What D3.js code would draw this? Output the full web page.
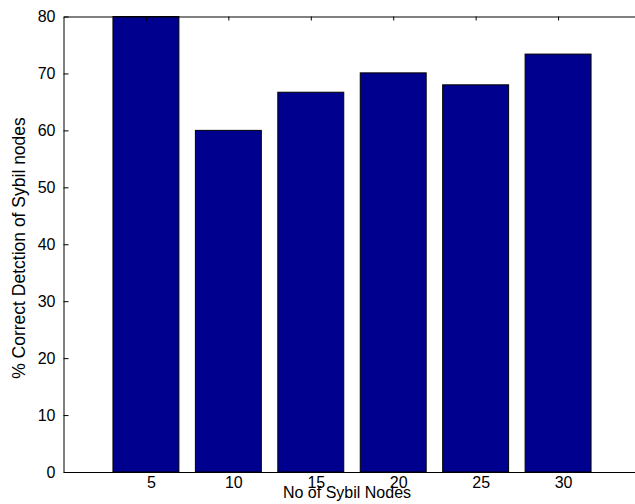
<!DOCTYPE html>
<html>
<head>
<meta charset="utf-8">
<script src="https://cdn.jsdelivr.net/npm/d3@7"></script>
<style>
  body { margin: 0; background: #fff; }
  svg text { font-family: Arial, "Liberation Sans", sans-serif; fill: #000; }
</style>
</head>
<body>
<div id="chart"></div>
<script>
// data
var nodeCounts = [5, 10, 15, 20, 25, 30];
var detectionPct = [80, 60, 66.7, 70.1, 68, 73.4];
var yTicks = [0, 10, 20, 30, 40, 50, 60, 70, 80];

var W = 635, H = 504;

var svg = d3.select("#chart").append("svg")
  .attr("width", W)
  .attr("height", H);

//scales (axes run past the right edge of the picture, like the original)
var x = d3.scaleLinear().domain([0, 35]).range([63.5, 640.5]);
var y = d3.scaleLinear().domain([0, 80]).range([472, 16.5]);
var barW = x(4) - x(0);

//bars
svg.append("g").selectAll("rect")
  .data(nodeCounts)
  .join("rect")
  .attr("x", (d) => x(d) - barW / 2)
  .attr("y", (d, i) => y(detectionPct[i]))
  .attr("width", barW)
  .attr("height", (d, i) => y(0) - y(detectionPct[i]))
  .attr("fill", "#00008f")
  .attr("stroke", "#000")
  .attr("stroke-width", 1);

//left axis, ticks point inward
var yAxis = d3.axisLeft(y)
  .tickValues(yTicks)
  .tickSizeInner(-5)
  .tickSizeOuter(0)
  .tickPadding(8);

svg.append("g")
  .attr("transform", "translate(" + x(0) + ",0)")
  .call(yAxis)
  .call(g => g.selectAll("text").style("font-size", "16px").attr("font-family", null));

//bottom axis
var xAxis = d3.axisBottom(x)
  .tickValues(nodeCounts)
  .tickSize(0)
  .tickPadding(5);

svg.append("g")
  .attr("transform", "translate(0," + y(0) + ")")
  .call(xAxis)
  .call(g => g.selectAll("text").style("font-size", "16px").attr("font-family", null).attr("dx", 5));

//top axis (box) with small ticks
var topAxis = d3.axisTop(x)
  .tickValues(nodeCounts)
  .tickSizeInner(-4)
  .tickSizeOuter(0)
  .tickFormat("");

svg.append("g")
  .attr("transform", "translate(0," + y(80) + ")")
  .call(topAxis);

svg.selectAll(".domain, .tick line").attr("stroke", "#000");

//axis titles
svg.append("text")
  .attr("x", 347)
  .attr("y", 498)
  .attr("text-anchor", "middle")
  .style("font-size", "16px")
  .text("No of Sybil Nodes");

svg.append("text")
  .attr("transform", "translate(25,248) rotate(-90)")
  .attr("text-anchor", "middle")
  .style("font-size", "17.5px")
  .text("% Correct Detction of Sybil nodes");
</script>
</body>
</html>
